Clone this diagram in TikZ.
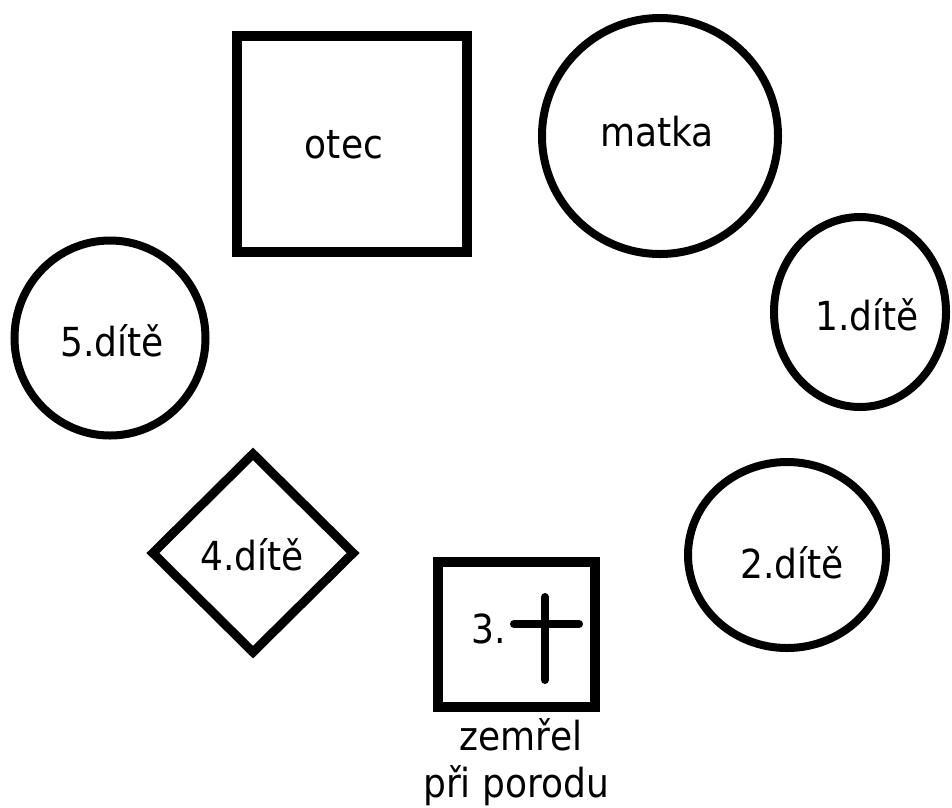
\documentclass[tikz,border=0pt]{standalone}
\usepackage{fontspec}
\setmainfont{DejaVu Sans}[FakeStretch=0.9]
\usetikzlibrary{shapes.geometric}
\tikzstyle{family} = [x = 1pt, y = -1pt, every node/.style={font=\fontsize{40}{47}\selectfont}]
\tikzstyle{maleStyle} = [draw, rectangle, line width = 10pt, inner sep = 0pt]
\tikzstyle{femaleStyle} = [draw, ellipse, line width = 8pt, inner sep = 0pt]
\tikzstyle{unknownStyle} = [draw, diamond, line width = 9pt, inner sep = 0pt]
\tikzstyle{crossStyle} = [line width = 8pt, line cap = round]
\tikzstyle{plainText} = [inner sep = 0pt, anchor = base]
\newcommand{\femalePerson}[4]{\node [femaleStyle, minimum width = #3, minimum height = #4] (#1) at #2 {};}
\newcommand{\malePerson}[4]{\node [maleStyle, minimum width = #3, minimum height = #4] (#1) at #2 {};}
\newcommand{\personText}[3]{\node [plainText] (#1Text) at #2 {#3};}

\begin{document}
\begin{tikzpicture}[family]
            \useasboundingbox [fill=white] (0,0) rectangle (952,807);
            \malePerson{otec}{(352,144)}{230}{216}
            \femalePerson{matka}{(660,136)}{236}{236}
            \femalePerson{prvni}{(860,312)}{172}{190}
            \femalePerson{druhe}{(787,555)}{198}{186}
            \malePerson{treti}{(516.5,634.5)}{157}{145}
            \node [unknownStyle, minimum width = 204, minimum height = 202] (ctvrte) at (253,553) {};
            \femalePerson{pate}{(110,338)}{191}{195}
            % texts
            \personText{otec}{(344,158)}{otec}
            \personText{matka}{(657,146)}{matka}
            \personText{prvni}{(867,330)}{1.dítě}
            \personText{druhe}{(792,578)}{2.dítě}
            \personText{ctvrte}{(252,570)}{4.dítě}
            \personText{pate}{(112,356)}{5.dítě}
            % treti dite
            \personText{treti}{(489,643)}{3.}
            \draw [crossStyle] (545,597) -- (545,680);
            \draw [crossStyle] (514,624) -- (579,624);
            \node [plainText] (zemrel) at (521,750) {zemřel};
            \node [plainText] (porod) at (516,797) {při porodu};
          \end{tikzpicture}
\end{document}
